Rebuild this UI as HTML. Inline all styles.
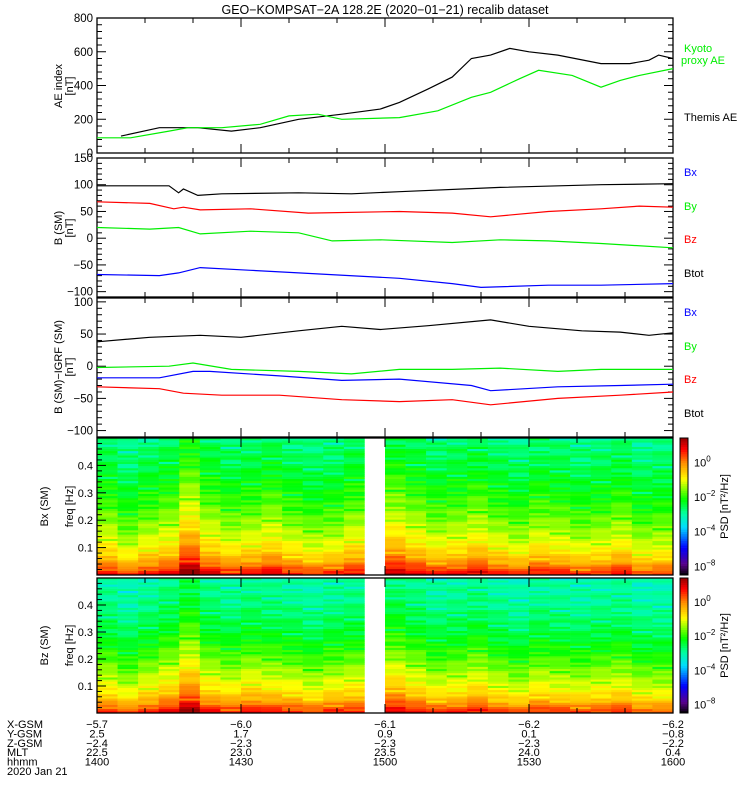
<!DOCTYPE html>
<html><head><meta charset="utf-8">
<style>
body{margin:0;background:#fff;}
svg{display:block;font-family:"Liberation Sans",sans-serif;}
text{font-size:11px;}
</style></head>
<body>
<svg id="chart" width="750" height="800" viewBox="0 0 750 800" xmlns="http://www.w3.org/2000/svg">
<text x="385" y="14" text-anchor="middle" style="font-size:12.5px">GEO−KOMPSAT−2A 128.2E (2020−01−21) recalib dataset</text>
<g id="layer"></g>
</svg>
<script>
// ---- data (time in minutes after 14:00) ----
const aeThemisT = [5,13,21,28,34,42,51,59,63,69,74,78,82,86,90,96,105,111,115,117,120];
const aeThemisV = [100,150,150,130,150,200,230,260,300,380,450,560,580,620,600,580,530,530,550,580,560];
const aeKyotoT = [0,7,15,19,26,34,40,46,51,63,71,78,82,88,92,99,105,109,113,120];
const aeKyotoV = [90,90,130,150,150,170,220,230,200,210,250,330,360,440,490,460,390,430,460,500];

const bxT = [0,15,17,18,21,26,42,53,63,84,105,120];
const bxTot = [98,98,85,92,80,83,85,83,87,95,100,102];
const byT = [0,11,16,18,21.5,32,44,63,74,82,94,105,113,120];
const byTot = [68,65,55,58,53,55,47,50,47,40,50,55,60,58];
const bzT = [0,11,17,21.5,32,42,49,59,74,84,94,105,120];
const bzTot = [20,17,20,8,13,10,-5,-3,-8,-3,-5,-10,-18];
const btT = [0,13,17,21.5,32,42,63,74,80,94,105,120];
const btTot = [-68,-70,-65,-55,-60,-65,-75,-85,-92,-88,-88,-85];

const dBxT = [0,11,21.5,30,42,51,59,69,82,90,101,109,115,120];
const dBx = [38,45,48,45,55,62,57,63,72,62,55,53,48,52];
const dByT = [0,15,20,28,42,53,63,74,84,96,105,120];
const dBy = [-2,0,5,-5,-8,-12,-5,-5,-3,-8,-5,-5];
const dBzT = [0,13,20,23.5,38,51,63,78,82,96,109,120];
const dBz = [-18,-18,-8,-8,-15,-22,-20,-30,-38,-32,-30,-28];
const dBtT = [0,13,18,26,38,51,63,74,82,96,109,120];
const dBt = [-32,-35,-42,-45,-45,-52,-55,-52,-60,-50,-45,-40];

// spectrogram: per-column offset (log10 PSD), null = data gap
const specBxCols = [0.1,-0.3,0.0,0.2,1.0,0.3,0.0,0.1,0.3,0.0,-0.2,-0.1,0.2,null,0.6,0.3,0.0,0.1,0.3,0.0,-0.2,0.1,0.0,-0.2,-0.1,0.1,-0.3,-0.2];
const specBzCols = [0.0,-0.3,0.0,0.3,0.9,0.2,0.0,0.2,0.1,0.0,-0.2,0.0,0.1,null,0.5,0.2,-0.1,0.0,0.2,-0.1,-0.3,0.0,-0.1,-0.2,-0.1,0.0,-0.3,-0.3];
const specBxProfile = [0.8,-0.3,-0.9,-1.3,-1.6,-1.9,-2.1,-2.3,-2.5,-2.6,-2.8];
const specBzProfile = [0.7,-0.4,-1.0,-1.4,-1.8,-2.1,-2.4,-2.6,-2.8,-2.9,-3.0];
const specTexture = [0.2,-0.4,0.1,0.5,-0.2,-0.7,0.3,0.0,-0.3,0.4,-0.1,0.6,-0.5,0.1,-0.9,0.2,0.3,-0.2,0.0,0.4,-0.6,0.1,0.5,-0.3,0.0,-1.2,0.2,0.3,-0.1];

// ---- layout ----
const L = 97, R = 673, T0 = 0, T1 = 120;
const ns = "http://www.w3.org/2000/svg";
const layer = document.getElementById('layer');
function el(tag, attrs, parent){ const e=document.createElementNS(ns,tag); for(const k in attrs) e.setAttribute(k,attrs[k]); (parent||layer).appendChild(e); return e; }
function xs(t){ return L + (t - T0)/(T1 - T0)*(R - L); }
function mkY(top,bot,vmin,vmax){ return v => bot - (v - vmin)/(vmax - vmin)*(bot - top); }

function frame(name, top, bot, vmin, vmax, major, minor, fmt){
  const g = el('g',{});
  
  
  const y = mkY(top,bot,vmin,vmax);
  el('rect',{x:L,y:top,width:R-L,height:bot-top,fill:'none',stroke:'#000','stroke-width':1.3},g);
  for(let t=0;t<=120;t+=10){
    const len = t%30===0?9:5, x=xs(t);
    el('line',{x1:x,x2:x,y1:bot,y2:bot-len,stroke:'#000'},g);
    el('line',{x1:x,x2:x,y1:top,y2:top+len,stroke:'#000'},g);
  }
  const start = Math.ceil(vmin/minor)*minor;
  for(let v=start; v<=vmax+1e-9; v+=minor){
    const isMaj = Math.abs(v/major - Math.round(v/major))<1e-6;
    const len = isMaj?9:5, yy=y(v);
    el('line',{x1:L,x2:L+len,y1:yy,y2:yy,stroke:'#000'},g);
    el('line',{x1:R,x2:R-len,y1:yy,y2:yy,stroke:'#000'},g);
    if(isMaj){
      const tx = el('text',{x:L-4,y:yy+4,'text-anchor':'end',style:'font-size:11.5px'},g);
      tx.textContent = fmt(v);
    }
  }
  return y;
}
function series(name, ts, vs, y, color){
  const pts = ts.map((t,i)=>xs(t).toFixed(1)+','+y(vs[i]).toFixed(1)).join(' ');
  const p = el('polyline',{points:pts,fill:'none',stroke:color,'stroke-width':1.2});
  
  
}
function label(name, x, y, txt, color, extra){
  const t = el('text',Object.assign({x:x,y:y,fill:color||'#000'},extra||{}));
  
  
  t.textContent = txt; return t;
}
function ytitle(name, x, y, txt){
  const t = el('text',{x:0,y:0,'text-anchor':'middle',transform:`translate(${x},${y}) rotate(-90)`});
  
  
  t.textContent = txt;
}
const minusFmt = v => (v<0?'−':'') + Math.abs(v);

// Panel 1
const y1 = frame('ae-panel',18,153,0,800,200,40,minusFmt);
series('themis-ae-line', aeThemisT, aeThemisV, y1, '#000');
series('kyoto-ae-line', aeKyotoT, aeKyotoV, y1, '#00ee00');
ytitle('ae-y-title',62,86,'AE index');
ytitle('ae-y-unit',73,86,'[nT]');
label('legend-kyoto',684,52,'Kyoto','#00ee00');
label('legend-proxy-ae',681,64,'proxy AE','#00ee00');
label('legend-themis',684,121,'Themis AE','#000');

// Panel 2
const y2 = frame('b-sm-panel',158,297,-110,150,50,10,minusFmt);
series('bx-line', bxT, bxTot, y2, '#000');
series('by-line', byT, byTot, y2, '#ff0000');
series('bz-line', bzT, bzTot, y2, '#00ee00');
series('btot-line', btT, btTot, y2, '#0000ff');
ytitle('b-sm-y-title',62,228,'B (SM)');
ytitle('b-sm-y-unit',73,228,'[nT]');
label('legend-bx-1',684,176,'Bx','#0000ff');
label('legend-by-1',684,210,'By','#00ee00');
label('legend-bz-1',684,243,'Bz','#ff0000');
label('legend-btot-1',684,277,'Btot','#000');

// Panel 3
const y3 = frame('b-igrf-panel',298,437,-110,106,50,10,minusFmt);
series('dbx-line', dBxT, dBx, y3, '#000');
series('dby-line', dByT, dBy, y3, '#00ee00');
series('dbz-line', dBzT, dBz, y3, '#0000ff');
series('dbt-line', dBtT, dBt, y3, '#ff0000');
ytitle('b-igrf-y-title',62,367,'B (SM)−IGRF (SM)');
ytitle('b-igrf-y-unit',73,367,'[nT]');
label('legend-bx-2',684,316,'Bx','#0000ff');
label('legend-by-2',684,350,'By','#00ee00');
label('legend-bz-2',684,383,'Bz','#ff0000');
label('legend-btot-2',684,417,'Btot','#000');

// colormap
const stops=[[0,0,0,0],[0.08,90,0,140],[0.2,0,0,255],[0.35,0,220,255],[0.45,0,255,160],[0.55,0,255,0],[0.7,255,255,0],[0.82,255,140,0],[0.92,255,0,0],[1,150,0,0]];
function cmap(t){ t=Math.max(0,Math.min(1,t)); for(let i=1;i<stops.length;i++){ if(t<=stops[i][0]){ const a=stops[i-1],b=stops[i],f=(t-a[0])/(b[0]-a[0]); return `rgb(${Math.round(a[1]+f*(b[1]-a[1]))},${Math.round(a[2]+f*(b[2]-a[2]))},${Math.round(a[3]+f*(b[3]-a[3]))})`;}} return 'rgb(150,0,0)'; }
const LMIN=-6.5, LMAX=1.4;

function spectro(name, top, bot, cols, prof, comp){
  const g = el('g',{});
  
  
  const nRows=64, cw=(R-L)/cols.length, rh=(bot-top)/nRows;
  cols.forEach((c,ci)=>{
    if(c===null) return;
    for(let r=0;r<nRows;r++){
      const f=(r+0.5)/nRows*0.5, pi=f/0.05, i0=Math.floor(pi), fr=pi-i0;
      const base=prof[i0]+(prof[Math.min(i0+1,prof.length-1)]-prof[i0])*fr;
      const tex=specTexture[(r*7+ci*3)%specTexture.length]*(0.35+0.4*f);
      const v=base+c*(1-f)+tex;
      const cell=el('rect',{x:(L+ci*cw).toFixed(2),y:(bot-(r+1)*rh).toFixed(2),width:(cw+0.3).toFixed(2),height:(rh+0.3).toFixed(2),fill:cmap((v-LMIN)/(LMAX-LMIN))},g);
      
      
    }
  });
  el('rect',{x:L,y:top,width:R-L,height:bot-top,fill:'none',stroke:'#000','stroke-width':1.3},g);
  const y=mkY(top,bot,0,0.5);
  for(let t=0;t<=120;t+=10){ const len=t%30===0?9:5,x=xs(t);
    el('line',{x1:x,x2:x,y1:bot,y2:bot-len,stroke:'#000'},g); el('line',{x1:x,x2:x,y1:top,y2:top+len,stroke:'#000'},g);}
  for(let k=1;k<25;k++){ const v=k*0.02, yy=y(v), maj=k%5===0, len=maj?9:5;
    el('line',{x1:L,x2:L+len,y1:yy,y2:yy,stroke:'#000'},g);
    if(maj){ const tx=el('text',{x:L-4,y:yy+4,'text-anchor':'end',style:'font-size:11px'},g); tx.textContent=(v).toFixed(1);} }
  ytitle(comp+'-spec-y-title',48,(top+bot)/2,comp+' (SM)');
  ytitle(comp+'-spec-y-unit',73,(top+bot)/2,'freq [Hz]');
  const cb=el('g',{});
  
  
  const n=60, h=(bot-top)/n;
  for(let i=0;i<n;i++) el('rect',{x:680,y:(bot-(i+1)*h).toFixed(2),width:8,height:(h+0.3).toFixed(2),fill:cmap((i+0.5)/n)},cb);
  el('rect',{x:680,y:top,width:8,height:bot-top,fill:'none',stroke:'#000'},cb);
  const cy=v=>bot-(v-LMIN)/(LMAX-LMIN)*(bot-top);
  [['0',0],['−2',-2],['−4',-4],['−8',-6]].forEach(([s,v])=>{
    const tx=el('text',{x:694,y:cy(v)+4,style:'font-size:11px'},cb); tx.textContent='10';
    const sp=el('tspan',{dy:-5,style:'font-size:8px'},tx); sp.textContent=s;
  });
  const pl=el('text',{x:0,y:0,'text-anchor':'middle',transform:`translate(728,${(top+bot)/2}) rotate(-90)`,style:'font-size:11px'},cb);
  pl.textContent='PSD  [nT²/Hz]';
}
spectro('bx-spectrogram',438,575,specBxCols,specBxProfile,'Bx');
spectro('bz-spectrogram',578,713,specBzCols,specBzProfile,'Bz');

// footer ephemeris
const rows=['X-GSM','Y-GSM','Z-GSM','MLT','hhmm'];
const colT=[0,30,60,90,120];
const vals=[['−5.7','−6.0','−6.1','−6.2','−6.2'],['2.5','1.7','0.9','0.1','−0.8'],['−2.4','−2.3','−2.3','−2.3','−2.2'],['22.5','23.0','23.5','24.0','0.4'],['1400','1430','1500','1530','1600']];
rows.forEach((r,i)=>{
  const yy=728+i*9.4;
  label('row-label-'+r.toLowerCase(),7,yy,r,'#000',{style:'font-size:11px'});
  colT.forEach((t,j)=>{ label('ephem-'+r.toLowerCase()+'-'+j,xs(t),yy,vals[i][j],'#000',{'text-anchor':'middle',style:'font-size:11px'}); });
});
label('date-label',7,728+5*9.4,'2020 Jan 21','#000',{style:'font-size:11px'});
</script>
</body></html>
